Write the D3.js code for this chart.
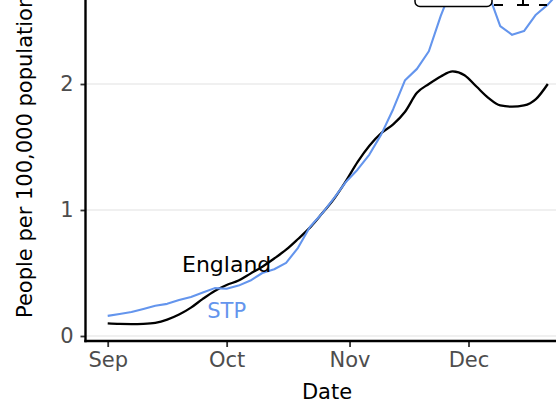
<!DOCTYPE html>
<html>
<head>
<meta charset="utf-8">
<script src="https://cdn.jsdelivr.net/npm/d3@7"></script>
<style>
  html, body { margin: 0; padding: 0; background: #fff; }
  svg { display: block; font-family: "DejaVu Sans", sans-serif; }
</style>
</head>
<body>
<svg id="chart" width="556" height="403"></svg>
<script>
// ---- data ----
const dayOffsets = [0,3,6,9,12,15,18,21,24,27,30,33,36,39,42,45,48,51,54,57,60,63,66,69,72,75,78,81,84,87,90,93,96,99,102,105,108,111];
const englandValues = [0.10,0.096,0.095,0.097,0.105,0.13,0.17,0.225,0.295,0.358,0.405,0.44,0.495,0.55,0.615,0.685,0.77,0.86,0.97,1.085,1.225,1.38,1.51,1.61,1.68,1.78,1.93,2.00,2.06,2.10,2.07,1.98,1.89,1.83,1.82,1.83,1.88,2.00];
const stpDayOffsets = [0,3,6,9,12,15,18,21,24,27,30,33,36,39,42,45,48,51,54,57,60,63,66,69,72,75,78,81,84,87,90,93,96,99,102,105,108,111,113];
const stpValues = [0.16,0.175,0.19,0.215,0.24,0.255,0.285,0.31,0.345,0.38,0.375,0.40,0.44,0.50,0.53,0.58,0.70,0.865,0.97,1.09,1.22,1.32,1.44,1.60,1.80,2.03,2.12,2.26,2.54,2.78,2.85,2.84,2.72,2.46,2.39,2.42,2.55,2.63,2.70];
const yTicks = [0, 1, 2, 3];
const xTickLabels = ["Sep", "Oct", "Nov", "Dec"];
const xTickDates = [Date.UTC(2020,8,1), Date.UTC(2020,9,1), Date.UTC(2020,10,1), Date.UTC(2020,11,1)];
const seriesLabels = ["England", "STP"];

const startDate = Date.UTC(2020,8,1);
const DAY = 86400000;
const england = dayOffsets.map((d,i) => ({date: new Date(startDate + d*DAY), v: englandValues[i]}));
const stp = stpDayOffsets.map((d,i) => ({date: new Date(startDate + d*DAY), v: stpValues[i]}));

// ---- layout ----
const svg = d3.select("#chart");
const panelLeft = 85.5, panelBottom = 341, panelRight = 556;

const x = d3.scaleUtc()
  .domain([new Date(xTickDates[0]), new Date(xTickDates[3])])
  .range([107.7, 468.5]);
const y = d3.scaleLinear().domain([0, 2]).range([336, 84]);

// gridlines
svg.append("g").selectAll("line").data(yTicks).join("line")
  .attr("x1", panelLeft).attr("x2", panelRight)
  .attr("y1", d => y(d)).attr("y2", d => y(d))
  .attr("stroke", "#ebebeb").attr("stroke-width", 1.6);

// clip
svg.append("clipPath").attr("id", "clip").append("rect")
  .attr("x", panelLeft).attr("y", -50).attr("width", panelRight - panelLeft + 10).attr("height", panelBottom + 50);

const g = svg.append("g").attr("clip-path", "url(#clip)");
g.append("path").datum(england)
  .attr("d", d3.line().x(d => x(d.date)).y(d => y(d.v)).curve(d3.curveMonotoneX))
  .attr("fill", "none").attr("stroke", "#000").attr("stroke-width", 2.3).attr("stroke-linejoin", "round");
g.append("path").datum(stp)
  .attr("d", d3.line().x(d => x(d.date)).y(d => y(d.v)).curve(d3.curveLinear))
  .attr("fill", "none").attr("stroke", "#6495ED").attr("stroke-width", 2.1).attr("stroke-linejoin", "round");

// series labels
svg.append("text").attr("x", x(new Date(startDate + 30*DAY))).attr("y", 272)
  .attr("text-anchor", "middle").attr("font-size", 22).attr("fill", "#000").text(seriesLabels[0]);
svg.append("text").attr("x", x(new Date(startDate + 30*DAY))).attr("y", 318)
  .attr("text-anchor", "middle").attr("font-size", 21).attr("fill", "#6495ED").text(seriesLabels[1]);

// annotation box (cropped at top)
svg.append("rect").attr("x", 415).attr("y", -30).attr("width", 77).attr("height", 36.5)
  .attr("rx", 5).attr("fill", "#fff").attr("stroke", "#000").attr("stroke-width", 1.5);
const ann = svg.append("g").attr("stroke", "#000").attr("stroke-width", 2);
ann.append("line").attr("x1", 494).attr("x2", 503).attr("y1", 5).attr("y2", 5);
ann.append("line").attr("x1", 517).attr("x2", 529).attr("y1", 5).attr("y2", 5);
ann.append("line").attr("x1", 523).attr("x2", 523).attr("y1", 0).attr("y2", 5);
ann.append("line").attr("x1", 539).attr("x2", 547).attr("y1", 5).attr("y2", 5);

// axes
const xAxis = d3.axisBottom(x).tickValues(xTickDates.map(t => new Date(t)))
  .tickFormat((d,i) => xTickLabels[i]).tickSize(6).tickPadding(5);
const xg = svg.append("g").attr("transform", `translate(0,${panelBottom})`).call(xAxis);
xg.select(".domain").remove();
xg.selectAll(".tick line").attr("stroke", "#333").attr("stroke-width", 1.8);
xg.selectAll(".tick text").attr("fill", "#4d4d4d").attr("font-size", 21).attr("font-family", "DejaVu Sans");

const yAxis = d3.axisLeft(y).tickValues(yTicks).tickFormat(d3.format("d")).tickSize(5).tickPadding(7);
const yg = svg.append("g").attr("transform", `translate(${panelLeft},0)`).call(yAxis);
yg.select(".domain").remove();
yg.selectAll(".tick line").attr("stroke", "#333").attr("stroke-width", 1.8);
yg.selectAll(".tick text").attr("fill", "#4d4d4d").attr("font-size", 21).attr("font-family", "DejaVu Sans");

// axis lines
svg.append("line").attr("x1", panelLeft).attr("x2", panelLeft).attr("y1", -5).attr("y2", panelBottom + 1.2)
  .attr("stroke", "#000").attr("stroke-width", 2.4);
svg.append("line").attr("x1", panelLeft - 1.2).attr("x2", panelRight).attr("y1", panelBottom).attr("y2", panelBottom)
  .attr("stroke", "#000").attr("stroke-width", 2.4);

// axis titles
svg.append("text").attr("x", 327).attr("y", 399).attr("text-anchor", "middle")
  .attr("font-size", 21).attr("fill", "#000").text("Date");
svg.append("text").attr("transform", "translate(32,318) rotate(-90)").attr("text-anchor", "start")
  .attr("font-size", 21).attr("fill", "#000").text("People per 100,000 population");
</script>
</body>
</html>
